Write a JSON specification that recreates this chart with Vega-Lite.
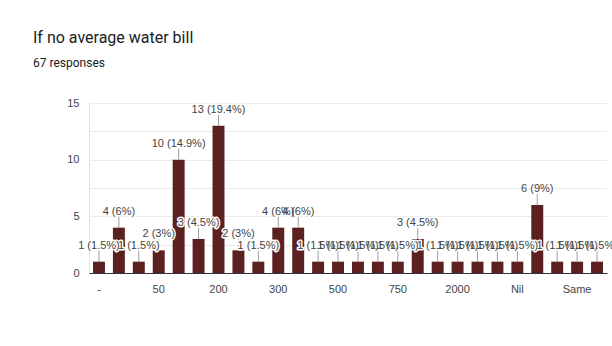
{
  "$schema": "https://vega.github.io/schema/vega-lite/v6.json",
  "autosize": {"type": "none"},
  "width": 518,
  "height": 170,
  "padding": {"left": 89, "top": 103, "right": 5, "bottom": 73},
  "background": "#ffffff",
  "title": {
    "text": "If no average water bill",
    "subtitle": "67 responses",
    "anchor": "start",
    "frame": "group",
    "dx": -56,
    "offset": 28,
    "font": "Roboto",
    "fontSize": 16,
    "fontWeight": "normal",
    "color": "#202124",
    "subtitleFont": "Roboto",
    "subtitleFontSize": 12,
    "subtitleColor": "#202124",
    "subtitlePadding": 12
  },
  "config": {
    "view": {"stroke": null},
    "font": "Liberation Sans"
  },
  "data": {
    "values": [
      {"answer": "-", "count": 1, "label": "1 (1.5%)"},
      {"answer": "0", "count": 4, "label": "4 (6%)"},
      {"answer": "10", "count": 1, "label": "1 (1.5%)"},
      {"answer": "50", "count": 2, "label": "2 (3%)"},
      {"answer": "100", "count": 10, "label": "10 (14.9%)"},
      {"answer": "150", "count": 3, "label": "3 (4.5%)"},
      {"answer": "200", "count": 13, "label": "13 (19.4%)"},
      {"answer": "250", "count": 2, "label": "2 (3%)"},
      {"answer": "280", "count": 1, "label": "1 (1.5%)"},
      {"answer": "300", "count": 4, "label": "4 (6%)"},
      {"answer": "400", "count": 4, "label": "4 (6%)"},
      {"answer": "450", "count": 1, "label": "1 (1.5%)"},
      {"answer": "500", "count": 1, "label": "1 (1.5%)"},
      {"answer": "550", "count": 1, "label": "1 (1.5%)"},
      {"answer": "600", "count": 1, "label": "1 (1.5%)"},
      {"answer": "750", "count": 1, "label": "1 (1.5%)"},
      {"answer": "1000", "count": 3, "label": "3 (4.5%)"},
      {"answer": "1500", "count": 1, "label": "1 (1.5%)"},
      {"answer": "2000", "count": 1, "label": "1 (1.5%)"},
      {"answer": "3000", "count": 1, "label": "1 (1.5%)"},
      {"answer": "NA", "count": 1, "label": "1 (1.5%)"},
      {"answer": "Nil", "count": 1, "label": "1 (1.5%)"},
      {"answer": "No", "count": 6, "label": "6 (9%)"},
      {"answer": "Not sure", "count": 1, "label": "1 (1.5%)"},
      {"answer": "Same", "count": 1, "label": "1 (1.5%)"},
      {"answer": "Zero", "count": 1, "label": "1 (1.5%)"}
    ]
  },
  "encoding": {
    "x": {
      "field": "answer",
      "type": "nominal",
      "sort": null,
      "title": null,
      "scale": {"paddingInner": 0.4, "paddingOuter": 0.2},
      "axis": {
        "values": ["-", "50", "200", "300", "500", "750", "2000", "Nil", "Same"],
        "labelAngle": 0,
        "ticks": false,
        "labelPadding": 10,
        "labelFontSize": 11,
        "labelColor": "#444444",
        "labelFont": "Liberation Sans",
        "domainColor": "#333333",
        "domainWidth": 1,
        "grid": false,
        "zindex": 1
      }
    },
    "y": {
      "field": "count",
      "type": "quantitative",
      "title": null,
      "scale": {"domain": [0, 15], "nice": false},
      "axis": {
        "values": [0, 2.5, 5, 7.5, 10, 12.5, 15],
        "labelExpr": "datum.value % 5 === 0 ? datum.label : ''",
        "ticks": false,
        "labelPadding": 10,
        "labelFontSize": 11,
        "labelColor": "#444444",
        "labelFont": "Liberation Sans",
        "domain": true,
        "domainColor": "#e4e4e4",
        "gridColor": "#ebebeb",
        "gridWidth": 1
      }
    }
  },
  "layer": [
    {
      "mark": {"type": "bar", "color": "#5b2020"}
    },
    {
      "mark": {"type": "rule", "color": "#9e9e9e", "strokeWidth": 1, "y2Offset": -11},
      "encoding": {
        "y2": {"field": "count"}
      }
    },
    {
      "mark": {
        "type": "text",
        "baseline": "alphabetic",
        "dy": -13,
        "fontSize": 11,
        "stroke": "#ffffff",
        "strokeWidth": 3,
        "strokeJoin": "round",
        "fill": "#ffffff"
      },
      "encoding": {"text": {"field": "label"}}
    },
    {
      "mark": {
        "type": "text",
        "baseline": "alphabetic",
        "dy": -13,
        "fontSize": 11,
        "fill": "#444444"
      },
      "encoding": {"text": {"field": "label"}}
    }
  ]
}
